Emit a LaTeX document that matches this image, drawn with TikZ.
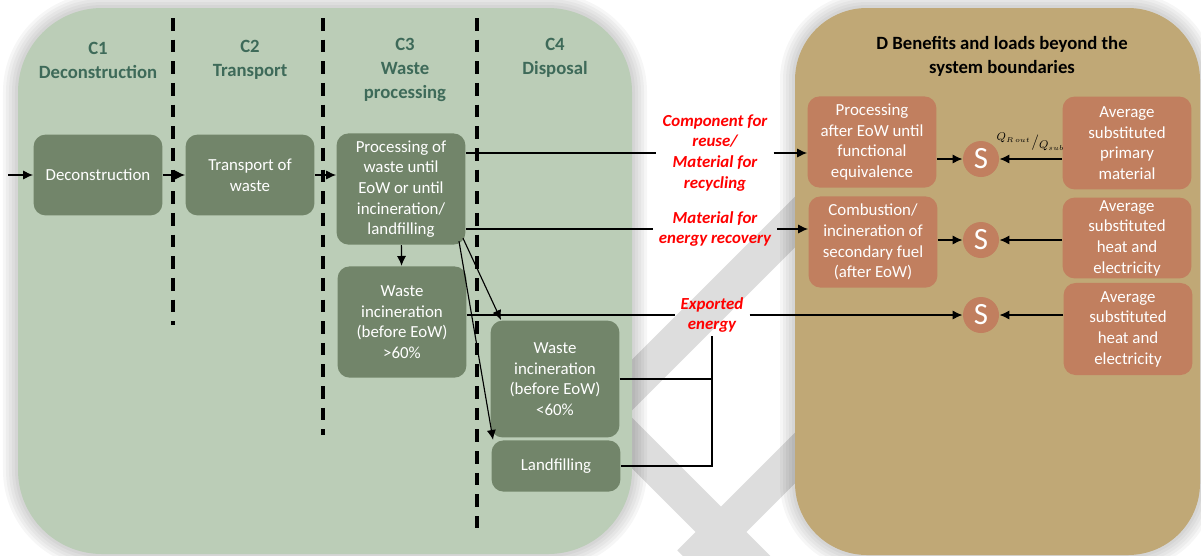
\documentclass[tikz,border=0pt]{standalone}
\usepackage{fontspec}
\setmainfont{Carlito}
\usetikzlibrary{positioning,arrows.meta}
\definecolor{panelgreen}{HTML}{BBCDB7}
\definecolor{boxgreen}{HTML}{72856A}
\definecolor{headgreen}{HTML}{3E6A59}
\definecolor{paneltan}{HTML}{C0A876}
\definecolor{boxbrown}{HTML}{C17F5F}
\definecolor{wmgray}{HTML}{DDDDDD}
\tikzset{
  phase/.style={font=\fontsize{13.3}{17}\selectfont\bfseries, text=headgreen, align=center},
  gbox/.style={rounded corners=0.3cm, fill=boxgreen, text=white, align=center, inner sep=0pt, minimum width=3.22cm, font=\fontsize{12}{14.7}\selectfont},
  dbox/.style={gbox, fill=boxbrown},
  subst/.style={circle, fill=boxbrown, text=white, minimum size=0.9cm, inner sep=0pt, font=\fontsize{22}{22}\selectfont},
  flowlab/.style={text=red, font=\fontsize{12}{14.9}\selectfont\bfseries\itshape, align=center, inner xsep=4pt, inner ysep=2pt},
  divider/.style={line width=2.6pt, dash pattern=on 9pt off 6.4pt},
  arr/.style={-{Latex[length=7pt,width=6.5pt]}},
}
\begin{document}
\begin{tikzpicture}[x=0.025cm, y=-0.025cm, line width=0.8pt]
          \useasboundingbox (0,0) rectangle (1201,555);
          \draw[wmgray, line width=0.9cm] (820,197) -- (603,414) -- (800,611);
          \draw[wmgray, line width=0.9cm] (830,423) -- (690,563);
          \foreach \w in {0.15,0.3,0.45,0.6,0.75}{
              \draw[black, opacity=0.035, line width=\w cm, rounded corners=2.1cm] (18,8) rectangle (632,554);
              \draw[black, opacity=0.035, line width=\w cm, rounded corners=1.8cm] (795,8) rectangle (1200,555);
          }
          \fill[panelgreen, rounded corners=2.1cm] (18,8) rectangle (632,554);
          \fill[paneltan, rounded corners=1.8cm] (795,8) rectangle (1200,555);

          \node[phase] (c1) at (98,60) {C1\\Deconstruction};
          \node[phase] (c2) at (250,60) {C2\\Transport};
          \node[phase] (c3) at (405,70) {C3\\Waste\\processing};
          \node[phase] (c4) at (555,58) {C4\\Disposal};
          \node[phase, text=black] (dhead) at (1002,56) {D Benefits and loads beyond the\\system boundaries};

          \draw[divider] (173,18) -- (173,325);
          \draw[divider] (323,18) -- (323,435);
          \draw[divider] (477,18) -- (477,528);

          \node[gbox, minimum height=2.02cm] (dec) at (98,175) {Deconstruction};
          \node[gbox, minimum height=2.02cm] (trans) at (250,175) {Transport of\\waste};
          \node[gbox, minimum height=2.78cm] (proc) at (401,189) {Processing of\\waste until\\EoW or until\\incineration/\\landfilling};
          \node[gbox, minimum height=2.78cm] (inc1) at (402,322) {Waste\\incineration\\(before EoW)\\>60\%};
          \node[gbox, minimum height=2.92cm] (inc2) at (555,379) {Waste\\incineration\\(before EoW)\\<60\%};
          \node[gbox, minimum height=1.28cm] (land) at (556,466) {Landfilling};

          \node[flowlab] (reuse) at (715,153) {Component for\\reuse/\\Material for\\recycling};
          \node[flowlab] (recov) at (715,229) {Material for\\energy recovery};
          \node[flowlab] (export) at (712,315) {Exported\\energy};

          \node[dbox, minimum height=2.28cm] (after) at (872,142) {Processing\\after EoW until\\functional\\equivalence};
          \node[dbox, minimum height=2.28cm] (fuel) at (873,242) {Combustion/\\incineration of\\secondary fuel\\(after EoW)};
          \node[subst] (s1) at (981,159) {S};
          \node[subst] (s2) at (981,240) {S};
          \node[subst] (s3) at (981,315) {S};
          \node[dbox, minimum height=2.32cm] (prim) at (1127,143) {Average\\substituted\\primary\\material};
          \node[dbox, minimum height=2.02cm] (heat1) at (1127,238) {Average\\substituted\\heat and\\electricity};
          \node[dbox, minimum height=2.3cm] (heat2) at (1128,329) {Average\\substituted\\heat and\\electricity};

          \coordinate (in) at (8,175);
          \draw[arr] (in) -- (dec);
          \draw[arr] (dec) -- (trans);
          \draw[arr] (trans) -- (trans -| proc.west);
          \draw[arr] (proc) -- (inc1);
          \draw[arr] ([shift={(-3,-7)}]proc.south east) -- ([shift={(11,0)}]inc2.north west);
          \draw[arr] ([shift={(-7,-4)}]proc.south east) -- ([shift={(2,0)}]land.north west);

          \draw (proc.east |- reuse.west) -- (reuse.west);
          \draw[arr] (reuse.east) -- (reuse.east -| after.west);
          \draw (proc.east |- recov.west) -- (recov.west);
          \draw[arr] (recov.east) -- (recov.east -| fuel.west);
          \draw (inc1.east |- export.west) -- (export.west);
          \draw[arr] (export.east) -- (s3);
          \draw (inc2.east) -| (export.south);
          \draw (land.east) -| (export.south);

          \draw[arr] (after.east |- s1) -- (s1);
          \draw[arr] (prim.west |- s1) -- (s1) node[midway, above=2pt, font=\fontsize{11}{11}\selectfont] {$^{Q_{R\,out}}/_{Q_{sub}}$};
          \draw[arr] (fuel.east |- s2) -- (s2);
          \draw[arr] (heat1.west |- s2) -- (s2);
          \draw[arr] (heat2.west |- s3) -- (s3);
      \end{tikzpicture}
\end{document}
